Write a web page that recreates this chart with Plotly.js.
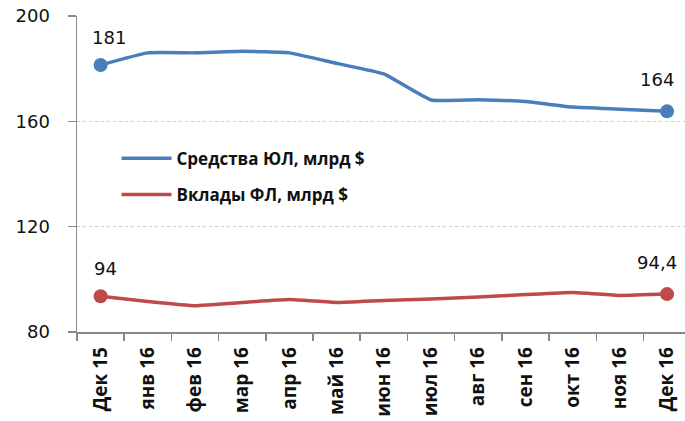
<!DOCTYPE html>
<html>
<head>
<meta charset="utf-8">
<script src="https://cdn.plot.ly/plotly-3.0.1.min.js"></script>
<style>
html,body{margin:0;padding:0;background:#fff;overflow:hidden;}
#chart{width:685px;height:421px;}
</style>
</head>
<body>
<div id="chart"></div>
<script>
var categories = ["Дек 15","янв 16","фев 16","мар 16","апр 16","май 16","июн 16","июл 16","авг 16","сен 16","окт 16","ноя 16","Дек 16"];
var seriesNames = ["Средства ЮЛ, млрд $", "Вклады ФЛ, млрд $"];
var corporate = [181.4, 186.0, 186.0, 186.6, 186.0, 182.0, 178.0, 168.1, 168.2, 167.5, 165.4, 164.6, 163.8];
var retail = [93.6, 91.6, 90.0, 91.2, 92.3, 91.2, 92.0, 92.5, 93.3, 94.2, 95.0, 93.9, 94.4];
var corporateLabels = ["181", "164"];
var retailLabels = ["94", "94,4"];
var yTicks = [80, 120, 160, 200];

var colors = ["#4A7EBB", "#BE4B48"];
var last = categories.length - 1;

var traces = [];
[corporate, retail].forEach(function(vals, k){
  traces.push({
    x: categories, y: vals, type: 'scatter', mode: 'lines',
    name: seriesNames[k], legendgroup: 'g' + k,
    line: {color: colors[k], width: 3.5, shape: 'spline', smoothing: 0.35},
    hoverinfo: 'skip'
  });
});
[corporate, retail].forEach(function(vals, k){
  traces.push({
    x: [categories[0], categories[last]], y: [vals[0], vals[last]],
    type: 'scatter', mode: 'markers', showlegend: false,
    marker: {color: colors[k], size: 14, opacity: 1, line: {width: 0}},
    hoverinfo: 'skip'
  });
});

var labelFont = {family: "'DejaVu Sans', sans-serif", size: 18, color: '#111'};
var annotations = [];
[[corporate, corporateLabels], [retail, retailLabels]].forEach(function(pair, k){
  var vals = pair[0], labs = pair[1];
  annotations.push({x: 0, y: vals[0], xref: 'x', yref: 'y', text: labs[0], showarrow: false,
    yanchor: 'bottom', xanchor: 'center', xshift: k===0 ? 8 : 5, yshift: 15, font: labelFont});
  annotations.push({x: last, y: vals[last], xref: 'x', yref: 'y', text: labs[1], showarrow: false,
    yanchor: 'bottom', xanchor: 'center', xshift: -10, yshift: 19, font: labelFont});
});

var layout = {
  width: 685, height: 421,
  margin: {l: 77, r: 0, t: 16, b: 89},
  paper_bgcolor: '#fff', plot_bgcolor: '#fff',
  showlegend: true,
  legend: {x: 0.065, y: 0.605, xanchor: 'left', yanchor: 'top', bgcolor: 'rgba(0,0,0,0)',
    font: {family: "'Open Sans', sans-serif", size: 17, color: '#111', weight: 'bold'},
    tracegroupgap: 11, itemwidth: 50},
  xaxis: {
    type: 'category', range: [-0.5, 12.38], tickangle: -90,
    tickson: 'boundaries', ticks: 'outside', ticklen: 7, tickcolor: '#888', tickwidth: 1.5,
    showline: true, linecolor: '#888', linewidth: 1.5, showgrid: false, zeroline: false,
    ticklabelstandoff: 6,
    tickfont: {family: "'Open Sans', sans-serif", size: 19, color: '#111', weight: 'bold'}
  },
  yaxis: {
    range: [80, 200], tickvals: yTicks, ticktext: yTicks.map(String),
    ticks: 'outside', ticklen: 8, tickcolor: '#888', tickwidth: 1.5,
    showline: true, linecolor: '#888', linewidth: 1.5, ticklabelstandoff: 14,
    showgrid: true, gridcolor: '#cccccc', griddash: 'dot', gridwidth: 1.2, zeroline: false,
    tickfont: {family: "'DejaVu Sans', sans-serif", size: 18, color: '#111'}
  },
  annotations: annotations
};

Plotly.newPlot('chart', traces, layout, {displayModeBar: false, staticPlot: true});
</script>
</body>
</html>
